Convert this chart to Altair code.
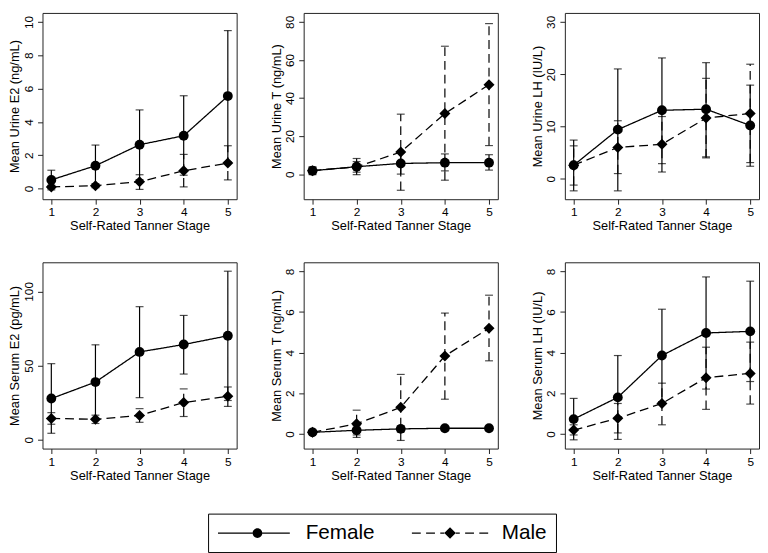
import altair as alt
import pandas as pd

stages = [1, 2, 3, 4, 5]
sexes = ["Female", "Male"]
x_title = "Self-Rated Tanner Stage"

panel_titles = ["Mean Urine E2 (ng/mL)", "Mean Urine T (ng/mL)", "Mean Urine LH (IU/L)",
                "Mean Serum E2 (pg/mL)", "Mean Serum T (ng/mL)", "Mean Serum LH (IU/L)"]
panel_domains = [[-0.64, 10.54], [-13.2, 84.7], [-3.9, 31.7],
                 [-5.9, 119.6], [-0.72, 8.45], [-0.72, 8.45]]
panel_ticks = [[0, 2, 4, 6, 8, 10], [0, 20, 40, 60, 80], [0, 10, 20, 30],
               [0, 50, 100], [0, 2, 4, 6, 8], [0, 2, 4, 6, 8]]

# Urine E2
ue2_f_mean = [0.52, 1.37, 2.63, 3.17, 5.55]
ue2_f_lo = [-0.08, 0.12, 0.54, 0.80, 1.60]
ue2_f_hi = [1.10, 2.61, 4.72, 5.57, 9.48]
ue2_m_mean = [0.10, 0.17, 0.41, 1.07, 1.53]
ue2_m_lo = [0.00, 0.05, -0.05, 0.10, 0.52]
ue2_m_hi = [0.20, 0.30, 0.83, 2.05, 2.57]
# Urine T
ut_f_mean = [1.8, 3.9, 5.6, 6.0, 6.0]
ut_f_lo = [-0.3, -0.3, 0.0, 1.7, 2.1]
ut_f_hi = [3.9, 8.2, 11.2, 10.6, 10.2]
ut_m_mean = [1.8, 3.8, 11.6, 31.8, 47.0]
ut_m_lo = [0.2, 1.0, -8.5, -3.2, 15.0]
ut_m_hi = [3.4, 6.6, 31.5, 67.2, 79.1]
# Urine LH
ulh_f_mean = [2.6, 9.4, 13.1, 13.3, 10.2]
ulh_f_lo = [-2.3, -2.3, 2.9, 4.2, 2.4]
ulh_f_hi = [7.4, 21.0, 23.1, 22.2, 17.9]
ulh_m_mean = [2.6, 6.0, 6.6, 11.6, 12.5]
ulh_m_lo = [-1.2, 1.0, 1.3, 4.0, 3.1]
ulh_m_hi = [6.3, 11.1, 11.9, 19.2, 21.9]
# Serum E2
se2_f_mean = [27.8, 38.9, 59.2, 64.2, 70.1]
se2_f_lo = [4.4, 13.4, 28.4, 44.3, 26.5]
se2_f_hi = [51.3, 64.0, 89.7, 83.8, 113.6]
se2_m_mean = [14.4, 13.8, 16.4, 25.1, 29.3]
se2_m_lo = [10.5, 11.0, 11.8, 15.7, 22.5]
se2_m_hi = [18.3, 16.6, 21.0, 34.3, 35.6]
# Serum T
st_f_mean = [0.08, 0.18, 0.25, 0.28, 0.28]
st_f_lo = [0.03, -0.05, 0.10, 0.20, 0.20]
st_f_hi = [0.13, 0.41, 0.40, 0.36, 0.36]
st_m_mean = [0.08, 0.50, 1.31, 3.84, 5.20]
st_m_lo = [0.03, -0.17, -0.32, 1.71, 3.60]
st_m_hi = [0.13, 1.17, 2.93, 5.95, 6.83]
# Serum LH
slh_f_mean = [0.73, 1.80, 3.86, 4.97, 5.05]
slh_f_lo = [-0.29, -0.27, 1.59, 2.21, 2.58]
slh_f_hi = [1.75, 3.86, 6.14, 7.73, 7.52]
slh_m_mean = [0.19, 0.77, 1.50, 2.77, 2.98]
slh_m_lo = [-0.05, 0.05, 0.45, 1.21, 1.47]
slh_m_hi = [0.45, 1.50, 2.50, 4.27, 4.52]

panel_series = [
    (ue2_f_mean, ue2_f_lo, ue2_f_hi, ue2_m_mean, ue2_m_lo, ue2_m_hi),
    (ut_f_mean, ut_f_lo, ut_f_hi, ut_m_mean, ut_m_lo, ut_m_hi),
    (ulh_f_mean, ulh_f_lo, ulh_f_hi, ulh_m_mean, ulh_m_lo, ulh_m_hi),
    (se2_f_mean, se2_f_lo, se2_f_hi, se2_m_mean, se2_m_lo, se2_m_hi),
    (st_f_mean, st_f_lo, st_f_hi, st_m_mean, st_m_lo, st_m_hi),
    (slh_f_mean, slh_f_lo, slh_f_hi, slh_m_mean, slh_m_lo, slh_m_hi),
]

FONT = "Liberation Sans"
W, H = 197, 189

dash_scale = alt.Scale(domain=sexes, range=[[1, 0], [9, 5]])


# legend symbols (filled outlines only): line pieces as thin bars + marker
def bar(x0, x1, h=0.15):
    return f"M{x0},{-h}L{x1},{-h}L{x1},{h}L{x0},{h}Z"


PATH_F = (bar(-8.1, -0.3) + bar(1.9, 8.1)
          + "M-0.3,0A1.1,1.1,0,1,1,1.9,0A1.1,1.1,0,1,1,-0.3,0Z")
PATH_M = (bar(-8.6, -6.6) + bar(-5.4, -3.4) + bar(-2.2, -1.3)
          + bar(1.3, 2.2) + bar(3.4, 5.4) + bar(6.6, 8.6)
          + "M-1.3,0L0,-1.3L1.3,0L0,1.3Z")


def make_panel(i):
    fm, flo, fhi, mm, mlo, mhi = panel_series[i]
    rows = []
    for s, mean, lo, hi in [("Female", fm, flo, fhi), ("Male", mm, mlo, mhi)]:
        for k, st in enumerate(stages):
            rows.append({"stage": st, "sex": s, "mean": mean[k], "lo": lo[k], "hi": hi[k]})
    df = pd.DataFrame(rows)

    xenc = alt.X("stage:Q",
                 scale=alt.Scale(domain=[0.8, 5.2], nice=False, zero=False),
                 axis=alt.Axis(values=stages, format="d", title=x_title,
                               labelOverlap=False, tickCount=10))
    yscale = alt.Scale(domain=panel_domains[i], nice=False, zero=False)
    yaxis = alt.Axis(values=panel_ticks[i], title=panel_titles[i], labelAngle=270,
                     labelOverlap=False, labelFlush=False, tickCount=12)

    base = alt.Chart(df)
    lines = base.mark_line(color="black", strokeWidth=1.3).encode(
        x=xenc, y=alt.Y("mean:Q", scale=yscale, axis=yaxis),
        strokeDash=alt.StrokeDash("sex:N", scale=dash_scale, legend=None),
        detail="sex:N")
    bars = base.mark_rule(color="black", strokeWidth=1.2).encode(
        x="stage:Q", y="lo:Q", y2="hi:Q",
        strokeDash=alt.StrokeDash("sex:N", scale=dash_scale, legend=None))
    cap_lo = base.mark_tick(color="black", orient="horizontal", size=8, thickness=1.2).encode(
        x="stage:Q", y="lo:Q")
    cap_hi = base.mark_tick(color="black", orient="horizontal", size=8, thickness=1.2).encode(
        x="stage:Q", y="hi:Q")
    pts_f = base.transform_filter("datum.sex == 'Female'").mark_point(
        shape="circle", filled=True, color="black", size=100, opacity=1).encode(
        x="stage:Q", y="mean:Q")
    pts_m = base.transform_filter("datum.sex == 'Male'").mark_point(
        shape="diamond", filled=True, color="black", size=125, opacity=1).encode(
        x="stage:Q", y="mean:Q")
    return alt.layer(lines, bars, cap_lo, cap_hi, pts_f, pts_m).properties(width=W, height=H)


charts = [make_panel(i) for i in range(6)]

# legend-only cell (no marks drawn; legend from the shape scale)
legend_df = pd.DataFrame({"sex": sexes})
legend_cell = alt.Chart(legend_df).transform_filter("false").mark_point(
    filled=True, color="black", size=81, opacity=1).encode(
    shape=alt.Shape("sex:N",
                    scale=alt.Scale(domain=sexes, range=[PATH_F, PATH_M]),
                    legend=alt.Legend(
                        orient="none", legendX=168, legendY=2,
                        direction="horizontal", title=None,
                        labelFontSize=21, labelFont=FONT, labelColor="black",
                        strokeColor="black", padding=9, cornerRadius=0,
                        symbolOffset=27, labelOffset=42, columnPadding=33,
                        symbolSize=81, symbolFillColor="black",
                        symbolOpacity=1))
).properties(width=W, height=36, view=alt.ViewBackground(stroke="transparent"))

chart = alt.concat(*charts, legend_cell, columns=3, spacing={"row": 64, "column": 68},
                   bounds="flush").resolve_scale(shape="independent").resolve_legend(
    shape="independent").properties(padding=0).configure_view(
    stroke="#222", strokeWidth=1
).configure_axis(
    domain=False, grid=False, ticks=True, tickColor="#222", tickSize=5, tickWidth=1,
    labelFont=FONT, labelFontSize=12, labelColor="black", labelPadding=3,
    titleFont=FONT, titleFontSize=13, titleFontWeight="normal", titleColor="black",
    titlePadding=2, labelOverlap=False
).configure_axisY(labelPadding=2, titlePadding=1)

chart.save("out.html", embed_options={"renderer": "svg", "actions": False})
